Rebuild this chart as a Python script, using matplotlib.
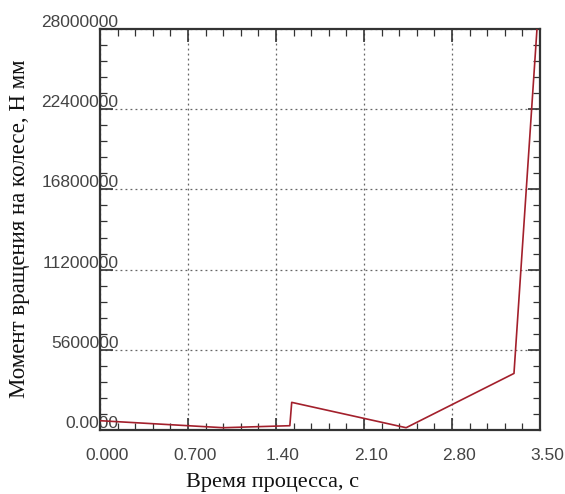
import matplotlib
matplotlib.use("Agg")
import matplotlib.pyplot as plt
from matplotlib.ticker import MultipleLocator
from matplotlib.transforms import ScaledTranslation

# Data (time, s ; torque, N mm)
time_s = [0.0, 0.98, 1.51, 1.525, 2.435, 3.293, 3.476]
torque = [650000, 160000, 300000, 1930000, 160000, 3950000, 28000000]

x_ticks = [0.0, 0.7, 1.4, 2.1, 2.8, 3.5]
x_tick_labels = ["0.000", "0.700", "1.40", "2.10", "2.80", "3.50"]
y_ticks = [0, 5600000, 11200000, 16800000, 22400000, 28000000]
y_tick_labels = ["0.0000", "5600000", "11200000", "16800000", "22400000", "28000000"]

fig = plt.figure(figsize=(5.65, 4.94), dpi=100)
ax = fig.add_axes([100/565, 64/494, 440/565, 401/494])

ax.plot(time_s, torque, color="#a3202c", lw=1.2, zorder=3)

ax.set_xlim(0, 3.5)
ax.set_ylim(0, 28000000)
ax.set_xticks(x_ticks)
ax.set_xticklabels(x_tick_labels)
ax.set_yticks(y_ticks)
ax.set_yticklabels(y_tick_labels)
ax.xaxis.set_minor_locator(MultipleLocator(0.14))
ax.yaxis.set_minor_locator(MultipleLocator(1120000))

ax.tick_params(which="both", direction="in", top=True, right=True, colors="#333333")
ax.tick_params(which="major", length=9, width=1.2)
ax.tick_params(which="minor", length=5, width=0.9)
ax.tick_params(axis="x", which="major", pad=13, labelsize=12.5, labelcolor="#444444")
ax.tick_params(axis="y", which="major", pad=4, labelsize=12.5, labelcolor="#444444")

for sp in ax.spines.values():
    sp.set_color("#333333")
    sp.set_linewidth(1.6)

ax.grid(True, which="major", linestyle=(0, (1.5, 2.5)), color="#666666", lw=0.9)

for lab in ax.get_xticklabels():
    lab.set_fontfamily("Liberation Sans")
    lab.set_transform(lab.get_transform() + ScaledTranslation(7/100, 0, fig.dpi_scale_trans))
for lab in ax.get_yticklabels():
    lab.set_fontfamily("Liberation Sans")
    lab.set_transform(lab.get_transform() + ScaledTranslation(24/100, 8/100, fig.dpi_scale_trans))

ax.set_xlabel("Время процесса, с", family="Liberation Serif", fontsize=16, color="#111111")
ax.set_ylabel("Момент вращения на колесе, Н мм", family="Liberation Serif", fontsize=16.5, color="#111111")
fig.canvas.draw()
ax.xaxis.label.set_position((273/565, 0))
ax.xaxis.set_label_coords((273-100)/440, -(482-430)/401)
ax.xaxis.label.set_va("center")
ax.yaxis.set_label_coords(-(100-20)/440, (430-229)/401)
ax.yaxis.label.set_va("center")

fig.savefig("out.png", dpi=100)
